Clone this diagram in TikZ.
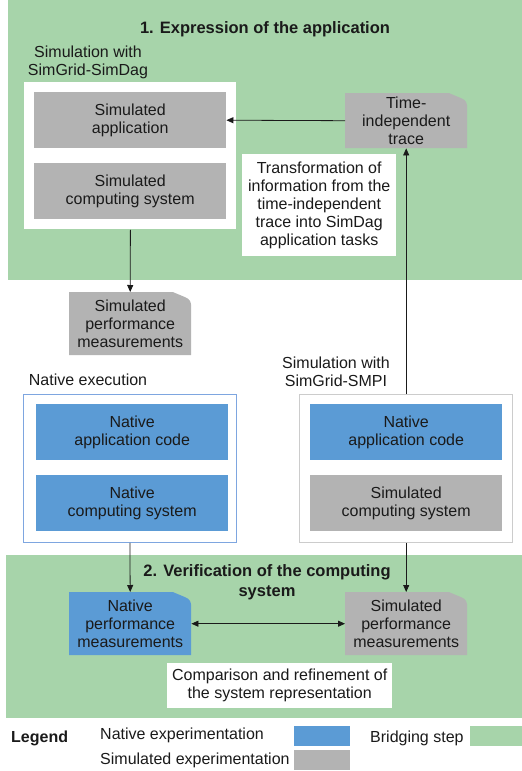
\documentclass[tikz,border=0pt]{standalone}
\usepackage{fontspec}
\setmainfont{Liberation Sans}
\usetikzlibrary{arrows.meta,positioning}
\definecolor{bridge}{HTML}{A7D4AA}
\definecolor{native}{HTML}{5B9BD5}
\definecolor{simul}{HTML}{B3B3B3}
\definecolor{nborder}{HTML}{7EA6E0}
\definecolor{sborder}{HTML}{CCCCCC}
\definecolor{ink}{HTML}{1A1A1A}
\begin{document}
\begin{tikzpicture}[x=1pt,y=-1pt,
  every node/.style={font=\fontsize{16}{18}\selectfont, text=ink, inner sep=0pt, align=center},
  box/.style={rectangle, anchor=north west, minimum width=192pt, minimum height=56pt},
  nbox/.style={box, fill=native},
  sbox/.style={box, fill=simul},
  frame/.style={rectangle, anchor=north west, fill=white, line width=0.8pt},
  docfill/.style={rectangle, anchor=north west, minimum width=122pt, minimum height=63pt,
    path picture={\fill[#1] (path picture bounding box.north west)
      -- ([xshift=-18pt]path picture bounding box.north east)
      -- ([xshift=-6pt,yshift=-5pt]path picture bounding box.north east)
      .. controls ([xshift=-1pt,yshift=-7pt]path picture bounding box.north east)
      and ([yshift=-10pt]path picture bounding box.north east)
      .. ([yshift=-15pt]path picture bounding box.north east)
      -- (path picture bounding box.south east)
      -- (path picture bounding box.south west) -- cycle;}},
  lbl/.style={},
  title/.style={font=\fontsize{16.5}{20}\selectfont\bfseries},
  arr/.style={draw=ink, line width=0.8pt, -{Triangle[length=7pt,width=6pt]}},
  darr/.style={draw=ink, line width=0.8pt, {Triangle[length=7pt,width=6pt]}-{Triangle[length=7pt,width=6pt]}},
  swatch/.style={rectangle, anchor=north west, minimum height=20pt}
]
\useasboundingbox (0,0) rectangle (522,771);
% bridging regions
\fill[bridge] (8,0) rectangle (522,280);
\fill[bridge] (6,555) rectangle (522,718);

% step 1
\node[title] (t1) at (265,29) {1. Expression of the application};
\node[lbl] (lsimdag) at (88,62) {Simulation with\\SimGrid-SimDag};
\node[frame, minimum width=212pt, minimum height=147pt] (simdag) at (24,82) {};
\node[sbox] (app) at (34,92) {Simulated\\application};
\node[sbox] (scs1) at (34,163) {Simulated\\computing system};
\node[docfill=simul, minimum height=55pt] (trace) at (345,93) {Time-\\independent\\trace};
\node[rectangle, anchor=north west, fill=white, minimum width=154pt, minimum height=102pt] (transf) at (242,154)
  {Transformation of\\information from the\\time-independent\\trace into SimDag\\application tasks};
\node[docfill=simul] (sperf1) at (69,292) {Simulated\\performance\\measurements};

% native execution
\node[lbl] (lnative) at (88,380) {Native execution};
\node[frame, draw=nborder, minimum width=213pt, minimum height=148pt] (natbox) at (23,394) {};
\node[nbox] (napp1) at (36,404) {Native\\application code};
\node[nbox] (ncs) at (36,475) {Native\\computing system};

% SMPI
\node[lbl] (lsmpi) at (336,372) {Simulation with\\SimGrid-SMPI};
\node[frame, draw=sborder, minimum width=213pt, minimum height=148pt] (smpi) at (299,394) {};
\node[nbox] (napp2) at (310,404) {Native\\application code};
\node[sbox] (scs2) at (310,475) {Simulated\\computing system};

% step 2
\node[title] (t2) at (267,582) {2. Verification of the computing\\system};
\node[docfill=native] (nperf) at (69,592) {Native\\performance\\measurements};
\node[docfill=simul] (sperf2) at (345,592) {Simulated\\performance\\measurements};
\node[rectangle, anchor=north west, fill=white, minimum width=225pt, minimum height=45pt] (comp) at (167,663)
  {Comparison and refinement of\\the system representation};

% connectors
\draw[arr] (trace.west) -- (app.east);
\draw[arr] (trace.south |- smpi.north) -- (trace.south);
\draw[arr] (simdag.south) -- (sperf1.north);
\draw[arr] (natbox.south) -- (nperf.north);
\draw[arr] (sperf2.north |- smpi.south) -- (sperf2.north);
\draw[darr] (nperf.east) -- (sperf2.west);

% legend
\node[anchor=west, font=\fontsize{16}{18}\selectfont\bfseries] (leg) at (11,738) {Legend};
\node[anchor=west] (lnat) at (100,735) {Native experimentation};
\node[swatch, fill=native, minimum width=56pt] (swn) at (294,726) {};
\node[anchor=west] (lsim) at (100,760) {Simulated experimentation};
\node[swatch, fill=simul, minimum width=56pt] (sws) at (294,750) {};
\node[anchor=west] (lbr) at (370,738) {Bridging step};
\node[swatch, fill=bridge, minimum width=52pt] (swb) at (470,726) {};
\end{tikzpicture}
\end{document}
